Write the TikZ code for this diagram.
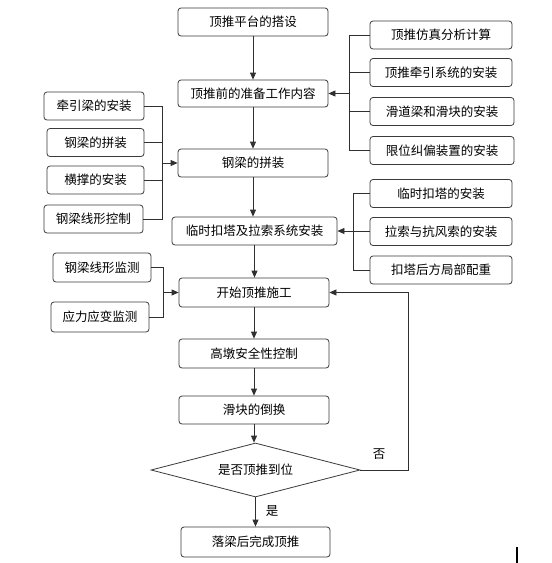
\documentclass[tikz,border=0pt]{standalone}
\usepackage{fontspec}
\newfontfamily\cjk{Noto Sans CJK SC}
\usetikzlibrary{arrows.meta}
\usetikzlibrary{shapes.geometric}

\definecolor{boxgray}{HTML}{3A3A3A}
\definecolor{linegray}{HTML}{303030}

\tikzset{
  flowbox/.style={draw=boxgray, rounded corners=3pt, minimum width=150pt,
    minimum height=28pt, inner sep=0pt, text=black,
    font=\cjk\fontsize{12.5}{14}\selectfont},
  decision/.style={draw=boxgray, diamond, aspect=4, minimum width=209pt,
    minimum height=54pt, inner sep=0pt, text=black,
    font=\cjk\fontsize{12.5}{14}\selectfont},
  flowlabel/.style={inner sep=0pt, text=black, font=\cjk\fontsize{12.5}{14}\selectfont},
  link/.style={draw=linegray}
}

\begin{document}
\begin{tikzpicture}[x=1pt, y=-1pt, line width=0.8pt, >={Triangle[length=7pt, width=6pt]}]
  \useasboundingbox (0,0) rectangle (552,563);

  % main column
  \node[flowbox] (b1) at (253,22) {顶推平台的搭设};
  \node[flowbox, minimum height=27pt] (b2) at (253,93.5) {顶推前的准备工作内容};
  \node[flowbox] (b3) at (253,163) {钢梁的拼装};
  \node[flowbox, minimum width=165pt] (b4) at (254.5,231) {临时扣塔及拉索系统安装};
  \node[flowbox, minimum height=29pt] (b5) at (254,292.5) {开始顶推施工};
  \node[flowbox, minimum height=29pt] (b6) at (254,353.5) {高墩安全性控制};
  \node[flowbox] (b7) at (254,410) {滑块的倒换};
  \node[decision] (d) at (255.5,470) {是否顶推到位};
  \node[flowbox, minimum width=149pt, minimum height=30pt] (b8) at (255.5,542) {落梁后完成顶推};

  \foreach \a/\b in {b1/b2, b2/b3, b3/b4, b4/b5, b5/b6, b6/b7, b7/d, d/b8}{
    \draw[link, ->] (\a.south) -- (\a.south |- \b.north);
  }

  % left boxes, steel girder
  \foreach \name/\x/\y/\w/\txt in {
    l1/94/106/100pt/牵引梁的安装,
    l2/95.5/142.5/97pt/钢梁的拼装,
    l3/95.5/180/97pt/横撑的安装,
    l4/93.5/219/99pt/钢梁线形控制
  }{
    \node[flowbox, minimum width=\w] (\name) at (\x,\y) {\txt};
  }
  \coordinate (j3) at (162,163);
  \foreach \name in {l1,l2,l3,l4}{
    \draw[link] (\name.east) -| (j3);
  }
  \draw[link, ->] (j3) -- (b3.west);

  % right boxes, preparation
  \foreach \name/\x/\y/\w/\txt in {
    r1/441/35/142pt/顶推仿真分析计算,
    r2/441/72.5/142pt/顶推牵引系统的安装,
    r3/442/111.5/144pt/滑道梁和滑块的安装,
    r4/442/150.5/144pt/限位纠偏装置的安装
  }{
    \node[flowbox, minimum width=\w] (\name) at (\x,\y) {\txt};
  }
  \coordinate (j2) at (349,93.5);
  \foreach \name in {r1,r2,r3,r4}{
    \draw[link] (\name.west) -| (j2);
  }
  \draw[link, ->] (j2) -- (b2.east);

  % right boxes, temporary tower
  \foreach \name/\x/\y/\txt in {
    s1/441/193.5/临时扣塔的安装,
    s2/441/231.5/拉索与抗风索的安装,
    s3/441/270/扣塔后方局部配重
  }{
    \node[flowbox, minimum width=142pt] (\name) at (\x,\y) {\txt};
  }
  \coordinate (j4) at (353,231);
  \foreach \name in {s1,s2,s3}{
    \draw[link] (\name.west) -| (j4);
  }
  \draw[link, ->] (j4) -- (b4.east);

  % left boxes, monitoring
  \node[flowbox, minimum width=98pt, minimum height=29pt] (m1) at (102,267.5) {钢梁线形监测};
  \node[flowbox, minimum width=98pt, minimum height=30pt] (m2) at (100,317) {应力应变监测};
  \coordinate (j5) at (163,292.5);
  \draw[link] (m1.east) -| (j5);
  \draw[link] (m2.east) -| (j5);
  \draw[link, ->] (j5) -- (b5.west);

  % loop back
  \coordinate (back) at (408,292.5);
  \draw[link, ->] (d.east) -| (back) -- (b5.east);
  \node[flowlabel] (no) at (379,454) {否};
  \node[flowlabel] (yes) at (272,511) {是};

  % cursor
  \draw[line width=1.6pt] (517,547) -- (517,563);
\end{tikzpicture}
\end{document}
